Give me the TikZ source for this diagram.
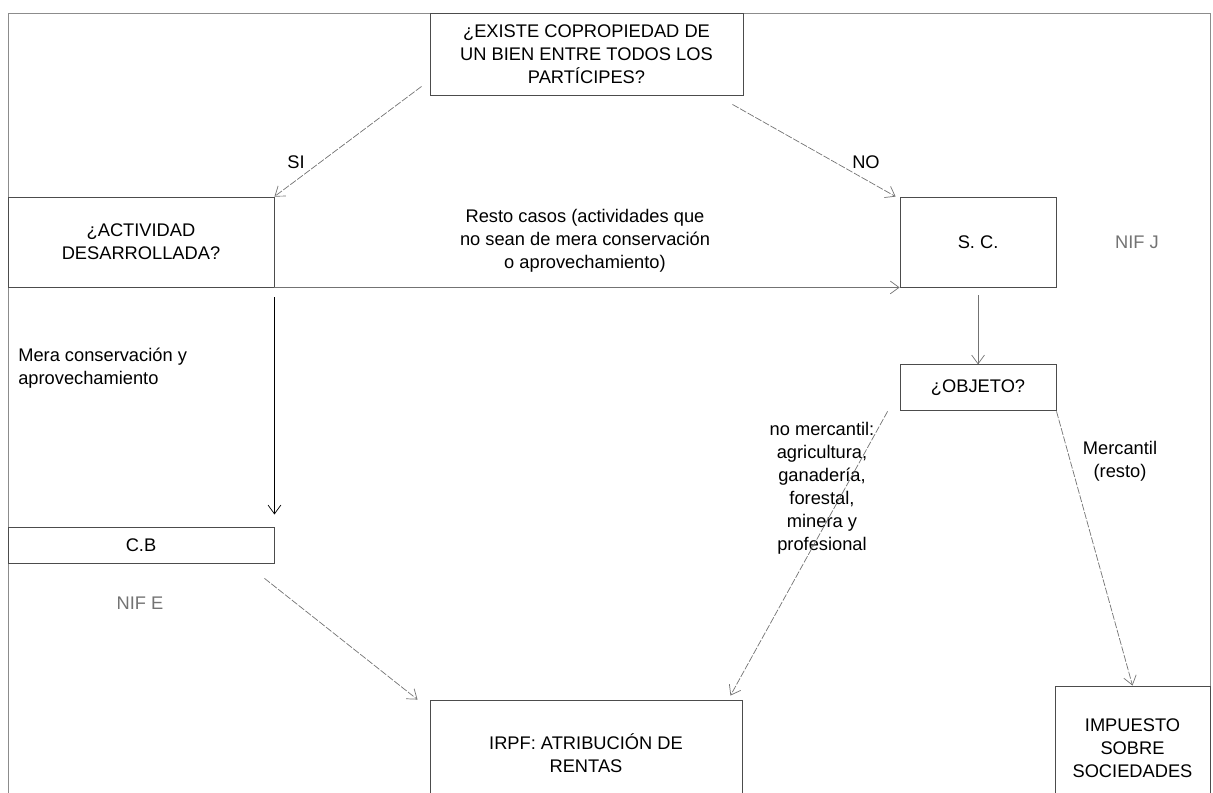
\documentclass[tikz,border=0pt]{standalone}
\usepackage{fontspec}
\setmainfont{Liberation Sans}
\usetikzlibrary{positioning,arrows.meta}

\tikzset{
  box/.style={draw=black!70, line width=0.6pt, align=center, inner sep=2pt},
  conn/.style={draw=black!55, line width=0.5pt, -{Straight Barb[length=2.2mm,width=3.2mm,line width=0.5pt]}},
  diag/.style={conn, dash pattern=on 5pt off 1.2pt},
  txt/.style={align=center, inner sep=0pt},
}

\begin{document}
\begin{tikzpicture}[x=0.025cm, y=-0.025cm, font=\fontsize{13}{16.4}\selectfont]
\useasboundingbox (0,0) rectangle (1213,792);
\clip (0,0) rectangle (1213,792);
\draw[black!45, line width=0.5pt] (8,13) rectangle (1210,850);

\node[box, minimum width=7.825cm, minimum height=2.05cm] (copro) at (586.5,54) {¿EXISTE COPROPIEDAD DE\\UN BIEN ENTRE TODOS LOS\\PARTÍCIPES?};
\node[box, minimum width=6.65cm, minimum height=2.25cm] (act) at (141,242) {¿ACTIVIDAD\\DESARROLLADA?};
\node[box, minimum width=3.9cm, minimum height=2.25cm, right=15.625cm of act] (sc) {S. C.};
\node[box, minimum width=3.9cm, minimum height=1.15cm, below=1.925cm of sc] (obj) {¿OBJETO?};
\node[box, minimum width=6.65cm, minimum height=0.9cm, below=5.975cm of act] (cb) {C.B};
\node[box, minimum width=7.8cm, minimum height=2.65cm] (irpf) at (586,753) {IRPF: ATRIBUCIÓN DE\\RENTAS};
\node[box, minimum width=3.875cm, minimum height=3.1cm] (imp) at (1132.5,748) {IMPUESTO\\SOBRE\\SOCIEDADES};

\node[txt] (si) at (296,162) {SI};
\node[txt] (no) at (866,162) {NO};
\node[txt] (resto) at (585,241) {Resto casos (actividades que\\no sean de mera conservación\\o aprovechamiento)};
\node[txt, text=black!55] (nifj) at (1137,242) {NIF J};
\node[txt, text=black!55] (nife) at (140,603) {NIF E};
\node[txt, align=left, anchor=west] (mera) at (18,368) {Mera conservación y\\aprovechamiento};
\node[txt] (nomerc) at (822,488) {no mercantil:\\agricultura,\\ganadería,\\forestal,\\minera y\\profesional};
\node[txt] (merc) at (1120,461) {Mercantil\\(resto)};

\draw[diag] ([xshift=-0.2cm,yshift=0.225cm]copro.south west) -- (act.north east);
\draw[diag] ([xshift=-0.275cm,yshift=-0.225cm]copro.south east) -- ([xshift=-0.1cm]sc.north west);
\draw[conn] (act.south east) -- (sc.south west);
\draw[conn, draw=black, line width=1pt] ([yshift=-0.25cm]act.south east) -- ([yshift=0.3cm]cb.north east);
\draw[conn] ([yshift=-0.2cm]sc.south) -- (obj.north);
\draw[diag] ([xshift=-0.3cm]obj.south west) -- ([xshift=-0.3cm,yshift=0.1cm]irpf.north east);
\draw[diag] (obj.south east) -- (imp.north);
\draw[diag] ([xshift=-0.25cm,yshift=-0.375cm]cb.south east) -- ([xshift=-0.3cm]irpf.north west);
\end{tikzpicture}
\end{document}
